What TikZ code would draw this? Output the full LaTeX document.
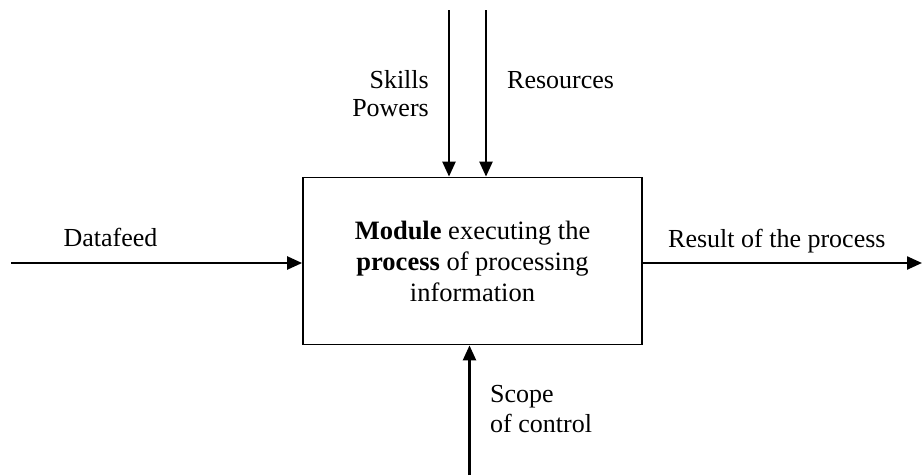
\documentclass[tikz,border=0pt]{standalone}
\usepackage{fontspec}
\setmainfont{Liberation Serif}
\usetikzlibrary{arrows.meta,positioning}
\tikzset{
  idef diagram/.style={
    x=1pt, y=-1pt,
    >={Triangle[length=15pt,width=13pt]},
    line cap=butt
  },
  modulebox/.style={
    draw,
    line width=1.8pt,
    minimum width=339pt,
    minimum height=167pt,
    align=center,
    inner sep=0pt,
    font=\fontsize{26.5}{31}\selectfont
  },
  flowlabel/.style={
    inner sep=0pt,
    font=\fontsize{26}{28}\selectfont
  },
  flowarrow/.style={
    ->,
    line width=2.4pt
  }
}

\begin{document}
\begin{tikzpicture}[idef diagram]
\useasboundingbox (0,0) rectangle (922,475);

\node[modulebox] (module) at (472.5,261) {\textbf{Module} executing the\\\textbf{process} of processing\\information};

% free ends of the arrows
\coordinate (skillsin) at (449,10);
\coordinate (resin) at (486,10);
\coordinate (datain) at (11,263);
\coordinate (resultout) at (922,263);
\coordinate (scopein) at (469.5,475);

\draw[flowarrow] (skillsin) -- (skillsin |- module.north);
\draw[flowarrow] (resin) -- (resin |- module.north);
\draw[flowarrow] (datain) -- (datain -| module.west);
\draw[flowarrow] (module.east |- resultout) -- (resultout);
\draw[flowarrow] (scopein) -- (scopein |- module.south);

\node[flowlabel, anchor=base] (datafeed) at (110.5,246) {Datafeed};
\node[flowlabel, anchor=base west] (result) at (668,247) {Result of the process};
\node[flowlabel, anchor=base west] (resources) at (507,88) {Resources};
\node[flowlabel, anchor=north east, align=right] (skills) at (429,70) {Skills\\Powers};
\node[flowlabel, anchor=north west, align=left, font=\fontsize{26}{30}\selectfont] (scope) at (490,385.5) {Scope\\of control};
\end{tikzpicture}
\end{document}
